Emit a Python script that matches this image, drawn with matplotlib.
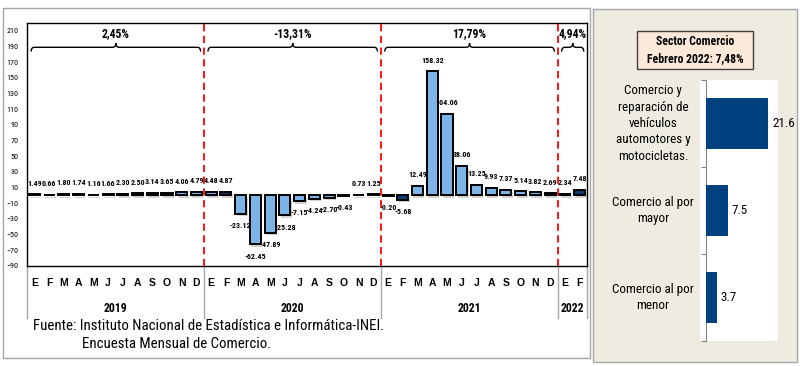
import matplotlib
matplotlib.use('Agg')
import matplotlib.pyplot as plt
import matplotlib.patheffects as pe
import matplotlib.transforms as mtransforms
from matplotlib import font_manager
from matplotlib.patches import Rectangle, PathPatch
from matplotlib.path import Path

# fonts: a narrow family if one exists, else the normal one
names = {f.name for f in font_manager.fontManager.ttflist}
NARROW = 'Liberation Sans'
for cand in ['Liberation Sans Narrow', 'Roboto Condensed', 'Arial Narrow']:
    if cand in names:
        NARROW = cand
        break
plt.rcParams['font.family'] = ['Liberation Sans', 'DejaVu Sans']

# ---- data
months = ['E', 'F', 'M', 'A', 'M', 'J', 'J', 'A', 'S', 'O', 'N', 'D'] * 3 + ['E', 'F']
years = ['2019', '2020', '2021', '2022']
year_growth = ['2,45%', '-13,31%', '17,79%', '4,94%']

var_2019 = [1.49, 0.66, 1.80, 1.74, 1.16, 1.66, 2.30, 2.50, 3.14, 3.65, 4.06, 4.79]
var_2020 = [4.48, 4.87, -23.12, -62.45, -47.89, -25.28, -7.15, -4.24, -2.70, -0.43, 0.73, 1.25]
var_2021 = [-0.20, -5.68, 12.49, 158.32, 104.06, 38.06, 13.25, 9.93, 7.37, 5.14, 3.82, 2.69]
var_2022 = [2.34, 7.48]
by_year = [var_2019, var_2020, var_2021, var_2022]
values = var_2019 + var_2020 + var_2021 + var_2022

sectors = ['Comercio y\nreparación de\nvehículos\nautomotores y\nmotocicletas.',
           'Comercio al por\nmayor',
           'Comercio al por\nmenor']
sector_values = [21.6, 7.5, 3.7]

LIGHT = '#7CB4E8'
DARK = '#0B3D75'
NAVY = '#00427F'


def fx(px):
    return px / 800


def fy(py):
    return 1 - py / 366


def brace(ax, x0, x1, y, d, r):
    xm = (x0 + x1) / 2
    verts = [(x0, y - d), (x0, y), (x0 + r, y),
             (xm - r, y), (xm, y), (xm, y + d),
             (xm, y), (xm + r, y),
             (x1 - r, y), (x1, y), (x1, y - d)]
    codes = [Path.MOVETO, Path.CURVE3, Path.CURVE3,
             Path.LINETO, Path.CURVE3, Path.CURVE3,
             Path.CURVE3, Path.CURVE3,
             Path.LINETO, Path.CURVE3, Path.CURVE3]
    ax.add_patch(PathPatch(Path(verts, codes), facecolor='none', edgecolor='black',
                           lw=1.0, zorder=5, clip_on=False))


fig = plt.figure(figsize=(8, 3.66), dpi=100)
fig.patches.append(Rectangle((fx(3), fy(358)), 587 / 800, 350 / 366, transform=fig.transFigure,
                             facecolor='white', edgecolor='#A6A6A6', lw=1, zorder=-5))
fig.patches.append(Rectangle((fx(593), fy(362)), 204 / 800, 353 / 366, transform=fig.transFigure,
                             facecolor='#EEECE1', edgecolor='#A6A6A6', lw=1, zorder=-5))

# ---- left chart
ax = fig.add_axes([fx(27), fy(266), 560 / 800, 243 / 366])
x = list(range(len(values)))
colors = [DARK if m == 'F' else LIGHT for m in months]
shadow = [pe.SimplePatchShadow(offset=(1, -1.8), shadow_rgbFace='#808080', alpha=0.35), pe.Normal()]
ax.bar(x, values, width=0.75, color=colors, edgecolor='black', linewidth=1.4, zorder=3,
       path_effects=shadow)

for i, v in enumerate(values):
    off = 8 if v >= 0 else -8.5
    ax.annotate(f'{v:.2f}', (i, v), xytext=(0, off), textcoords='offset points',
                ha='center', va='center', fontsize=5.8, fontweight='bold', family=NARROW)

ax.set_xlim(-0.5, len(values) - 0.5)
ax.set_ylim(-90, 220)
ax.set_yticks(range(-90, 211, 20))
ax.set_xticks([])
ax.tick_params(axis='y', length=0, pad=6, labelsize=5.8)
for lab in ax.get_yticklabels():
    lab.set_family(NARROW)
for s in ax.spines.values():
    s.set_linewidth(1.0)
    s.set_color('black')

blend = mtransforms.blended_transform_factory(ax.transData, ax.transAxes)
for i, m in enumerate(months):
    ax.text(i, -0.07, m, transform=blend, ha='center', va='center',
            fontsize=7.5, fontweight='bold')

start = 0
bounds = [-0.5]
for yr, vals, g in zip(years, by_year, year_growth):
    b0 = start - 0.5
    b1 = start + len(vals) - 0.5
    bounds.append(b1)
    mid = (b0 + b1) / 2
    ax.text(mid, -0.173, yr, transform=blend, ha='center', va='center',
            fontsize=8.5, fontweight='bold', family=NARROW)
    brace(ax, b0 + 0.28, b1 - 0.22, 189, 5.5, 0.22)
    ax.text(mid, 207, g, ha='center', va='center', fontsize=8.5, fontweight='bold',
            family=NARROW)
    start += len(vals)

for b in bounds:
    ax.plot([b, b], [0, -0.214], transform=blend, color='#A6A6A6', lw=1, clip_on=False)
for b in bounds[1:-1]:
    ax.axvline(b, color='#FF0000', ls=(0, (4, 2.5)), lw=1.3, zorder=4)

fig.text(fx(33), fy(326), 'Fuente: Instituto Nacional de Estadística e Informática-INEI.',
         ha='left', va='center', fontsize=10.7, family=NARROW)
fig.text(fx(82), fy(344), 'Encuesta Mensual de Comercio.',
         ha='left', va='center', fontsize=10.7, family=NARROW)

# ---- right chart
ax2 = fig.add_axes([fx(700), fy(341), 78 / 800, 261 / 366])
ax2.barh(range(len(sector_values)), sector_values, height=0.59, color=NAVY, zorder=3)
ax2.set_ylim(len(sector_values) - 0.5, -0.5)
ax2.set_xlim(-6 / 2.87, 72 / 2.87)
for k in ['top', 'right', 'bottom']:
    ax2.spines[k].set_visible(False)
ax2.spines['left'].set_position(('data', 0))
ax2.spines['left'].set_color('#868686')
ax2.set_xticks([])
ax2.set_yticks([i - 0.5 for i in range(len(sector_values) + 1)])
ax2.set_yticklabels([])
ax2.tick_params(axis='y', length=3.6, color='#868686', direction='out')

blend2 = mtransforms.blended_transform_factory(ax2.transAxes, ax2.transData)
for i, (lab, v) in enumerate(zip(sectors, sector_values)):
    ax2.text(-0.603, i, lab, transform=blend2, ha='center', va='center',
             fontsize=9.4, family=NARROW, linespacing=1.33)
    ax2.annotate(f'{v}', (v, i), xytext=(3, 0), textcoords='offset points',
                 ha='left', va='center', fontsize=9.4, family=NARROW)

fig.patches.append(Rectangle((fx(637), fy(69)), 116 / 800, 38 / 366, transform=fig.transFigure,
                             facecolor='#FDE9D9', edgecolor='#404040', lw=1, zorder=1))
fig.text(fx(695), fy(50), 'Sector Comercio\nFebrero 2022: 7,48%', ha='center', va='center',
         fontsize=8.5, fontweight='bold', family=NARROW, linespacing=1.35)

fig.savefig('out.png', dpi=100)
